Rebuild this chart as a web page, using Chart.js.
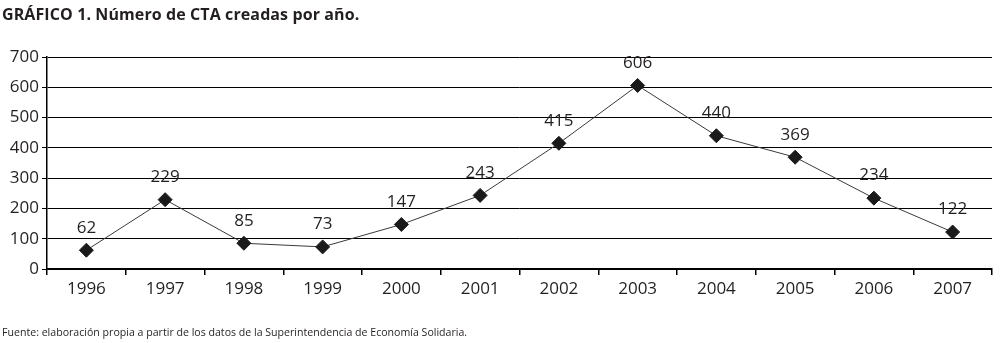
<!DOCTYPE html>
<html>
<head>
<meta charset="utf-8">
<script src="https://cdn.jsdelivr.net/npm/chart.js@4"></script>
<style>
  html, body { margin: 0; padding: 0; background: #fff; }
  #wrap { position: relative; width: 1000px; height: 343px; }
  #title { position: absolute; left: 2px; top: 3px; font-family: "Open Sans", sans-serif; font-weight: bold; font-size: 16px; letter-spacing: 0.1px; color: #231f20; white-space: nowrap; }
  #source { position: absolute; left: 2px; top: 325px; font-family: "Open Sans", sans-serif; font-size: 10.6px; color: #231f20; white-space: nowrap; }
  canvas { position: absolute; left: 0; top: 0; }
</style>
</head>
<body>
<div id="wrap">
  <canvas id="c" width="1000" height="343"></canvas>
  <div id="title">GRÁFICO 1. Número de CTA creadas por año.</div>
  <div id="source">Fuente: elaboración propia a partir de los datos de la Superintendencia de Economía Solidaria.</div>
</div>
<script>
const years = ['1996','1997','1998','1999','2000','2001','2002','2003','2004','2005','2006','2007'];
const ctaCreadas = [62, 229, 85, 73, 147, 243, 415, 606, 440, 369, 234, 122];
const yTicks = [0, 100, 200, 300, 400, 500, 600, 700];

const FONT = '"Open Sans", sans-serif';
const TXT = '#231f20';

const labelPlugin = {
  id: 'pointLabels',
  afterDatasetsDraw(chart) {
    const ctx = chart.ctx;
    const meta = chart.getDatasetMeta(0);
    ctx.save();
    ctx.font = '17px ' + FONT;
    ctx.fillStyle = TXT;
    ctx.textAlign = 'center';
    ctx.textBaseline = 'bottom';
    meta.data.forEach((pt, i) => {
      ctx.fillText(String(ctaCreadas[i]), pt.x, pt.y - 14);
    });
    ctx.restore();
  }
};

new Chart(document.getElementById('c'), {
  type: 'line',
  data: {
    labels: years,
    datasets: [{
      data: ctaCreadas,
      borderColor: '#3a3a3a',
      borderWidth: 1,
      pointStyle: 'rectRot',
      pointRadius: 7,
      pointHoverRadius: 7,
      pointBackgroundColor: '#1a1a1a',
      pointBorderColor: '#1a1a1a',
      tension: 0
    }]
  },
  options: {
    responsive: false,
    animation: false,
    devicePixelRatio: 1,
    layout: { padding: { left: 0, right: 4, top: 57, bottom: 0 } },
    plugins: { legend: { display: false }, tooltip: { enabled: false } },
    scales: {
      x: {
        offset: true,
        afterFit(scale) { scale.height = 74; },
        grid: { offset: true, drawOnChartArea: false, drawTicks: true, tickLength: 6, color: '#000', lineWidth: 1.5 },
        border: { color: '#000', width: 1.5 },
        ticks: { color: TXT, font: { family: FONT, size: 17 }, padding: 4, maxRotation: 0 }
      },
      y: {
        min: 0, max: 700,
        afterFit(scale) { scale.width = 47; },
        afterBuildTicks(scale) { scale.ticks = yTicks.map(v => ({ value: v })); },
        grid: { color: '#000', lineWidth: 1, drawTicks: true, tickLength: 5 },
        border: { color: '#000', width: 1.5 },
        ticks: { color: TXT, font: { family: FONT, size: 17 }, padding: 3 }
      }
    }
  },
  plugins: [labelPlugin]
});
</script>
</body>
</html>
